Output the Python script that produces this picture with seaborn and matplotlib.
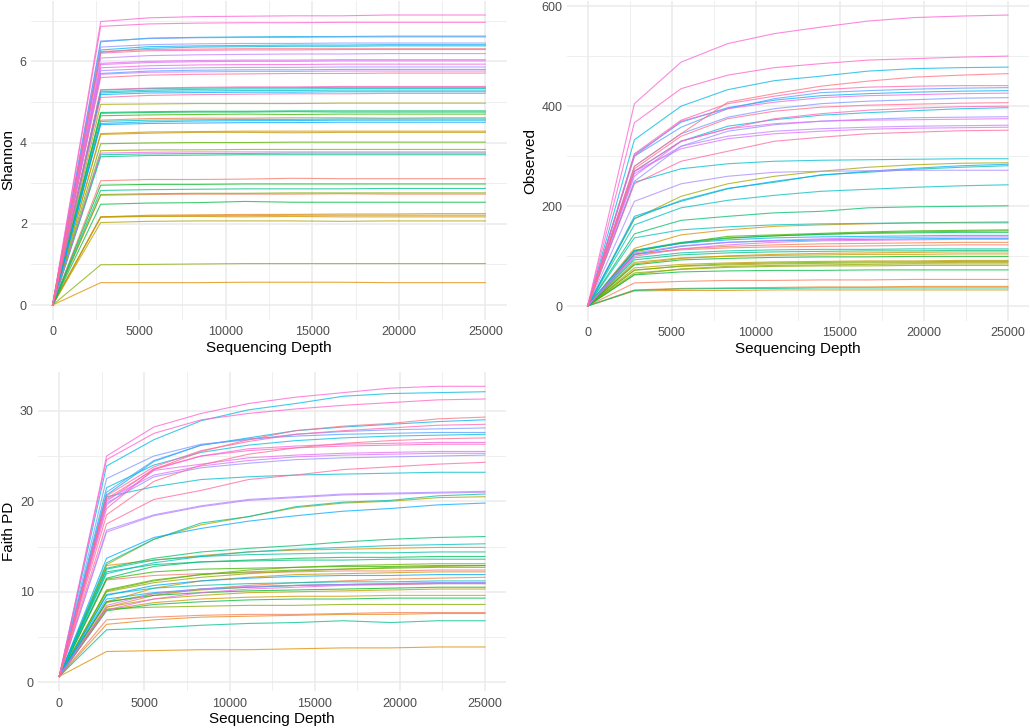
import numpy as np
import pandas as pd
import matplotlib
matplotlib.use('Agg')
import matplotlib.pyplot as plt
import seaborn as sns

# sequencing depths of the rarefaction steps
depths = [1, 2778, 5556, 8334, 11112, 13889, 16667, 19445, 22223, 25000]
samples = ['S%02d' % (i + 1) for i in range(50)]

shannon = [
    [0, 3.06, 3.09, 3.09, 3.10, 3.12, 3.11, 3.11, 3.11, 3.11],
    [0, 2.70, 2.72, 2.73, 2.73, 2.73, 2.74, 2.73, 2.73, 2.73],
    [0, 4.55, 4.59, 4.60, 4.60, 4.61, 4.61, 4.60, 4.61, 4.61],
    [0, 2.17, 2.21, 2.22, 2.23, 2.23, 2.24, 2.24, 2.25, 2.25],
    [0, 0.55, 0.55, 0.55, 0.56, 0.56, 0.56, 0.55, 0.55, 0.55],
    [0, 4.22, 4.26, 4.27, 4.28, 4.28, 4.28, 4.28, 4.28, 4.28],
    [0, 2.16, 2.18, 2.18, 2.17, 2.18, 2.17, 2.17, 2.17, 2.17],
    [0, 4.20, 4.23, 4.25, 4.25, 4.24, 4.25, 4.25, 4.25, 4.25],
    [0, 2.17, 2.19, 2.20, 2.20, 2.21, 2.21, 2.21, 2.21, 2.21],
    [0, 2.03, 2.06, 2.07, 2.07, 2.07, 2.06, 2.07, 2.07, 2.07],
    [0, 4.94, 4.95, 4.96, 4.96, 4.96, 4.97, 4.97, 4.97, 4.97],
    [0, 3.80, 3.82, 3.82, 3.83, 3.83, 3.83, 3.83, 3.83, 3.83],
    [0, 0.99, 1.00, 1.01, 1.02, 1.02, 1.02, 1.02, 1.02, 1.02],
    [0, 2.72, 2.74, 2.75, 2.75, 2.76, 2.76, 2.76, 2.76, 2.76],
    [0, 3.97, 3.99, 4.00, 4.00, 4.01, 4.01, 4.01, 4.01, 4.01],
    [0, 4.66, 4.68, 4.69, 4.70, 4.69, 4.70, 4.70, 4.70, 4.70],
    [0, 2.95, 2.97, 2.97, 2.98, 2.98, 2.98, 2.98, 2.98, 2.98],
    [0, 2.48, 2.51, 2.52, 2.55, 2.53, 2.53, 2.53, 2.53, 2.53],
    [0, 4.72, 4.74, 4.75, 4.75, 4.76, 4.75, 4.75, 4.75, 4.75],
    [0, 4.74, 4.76, 4.77, 4.77, 4.78, 4.78, 4.78, 4.78, 4.78],
    [0, 3.65, 3.68, 3.69, 3.70, 3.70, 3.70, 3.70, 3.70, 3.70],
    [0, 2.82, 2.84, 2.85, 2.86, 2.86, 2.86, 2.87, 2.87, 2.87],
    [0, 3.70, 3.72, 3.73, 3.73, 3.74, 3.74, 3.74, 3.74, 3.74],
    [0, 5.29, 5.33, 5.34, 5.35, 5.35, 5.36, 5.36, 5.36, 5.36],
    [0, 5.25, 5.29, 5.31, 5.32, 5.32, 5.33, 5.33, 5.33, 5.33],
    [0, 4.52, 4.55, 4.56, 4.57, 4.57, 4.58, 4.58, 4.58, 4.58],
    [0, 5.22, 5.26, 5.27, 5.28, 5.28, 5.29, 5.29, 5.29, 5.29],
    [0, 6.22, 6.32, 6.35, 6.36, 6.37, 6.37, 6.38, 6.38, 6.38],
    [0, 6.48, 6.57, 6.59, 6.60, 6.61, 6.61, 6.62, 6.62, 6.62],
    [0, 6.28, 6.36, 6.38, 6.39, 6.40, 6.40, 6.41, 6.41, 6.41],
    [0, 4.47, 4.51, 4.53, 4.54, 4.54, 4.55, 4.55, 4.55, 4.55],
    [0, 5.18, 5.22, 5.23, 5.24, 5.24, 5.25, 5.25, 5.25, 5.25],
    [0, 4.44, 4.47, 4.48, 4.49, 4.49, 4.50, 4.50, 4.50, 4.50],
    [0, 5.70, 5.76, 5.78, 5.79, 5.79, 5.80, 5.80, 5.80, 5.80],
    [0, 6.50, 6.56, 6.58, 6.59, 6.59, 6.60, 6.60, 6.60, 6.60],
    [0, 6.35, 6.41, 6.43, 6.44, 6.44, 6.45, 6.45, 6.45, 6.45],
    [0, 5.77, 5.82, 5.84, 5.85, 5.85, 5.86, 5.86, 5.86, 5.86],
    [0, 6.08, 6.14, 6.16, 6.17, 6.18, 6.18, 6.19, 6.19, 6.19],
    [0, 5.68, 5.73, 5.74, 5.75, 5.75, 5.76, 5.76, 5.76, 5.76],
    [0, 5.92, 5.97, 5.99, 6.00, 6.00, 6.01, 6.01, 6.01, 6.01],
    [0, 5.95, 6.00, 6.02, 6.03, 6.03, 6.04, 6.04, 6.04, 6.04],
    [0, 3.74, 3.76, 3.77, 3.77, 3.77, 3.77, 3.77, 3.77, 3.77],
    [0, 5.84, 5.89, 5.91, 5.92, 5.92, 5.93, 5.93, 5.93, 5.93],
    [0, 6.98, 7.07, 7.10, 7.11, 7.12, 7.12, 7.14, 7.14, 7.14],
    [0, 6.86, 6.92, 6.94, 6.95, 6.95, 6.96, 6.96, 6.96, 6.96],
    [0, 5.30, 5.34, 5.36, 5.37, 5.37, 5.38, 5.38, 5.38, 5.38],
    [0, 6.20, 6.26, 6.27, 6.28, 6.28, 6.29, 6.29, 6.29, 6.29],
    [0, 5.11, 5.16, 5.18, 5.19, 5.20, 5.20, 5.21, 5.21, 5.21],
    [0, 5.60, 5.66, 5.68, 5.69, 5.70, 5.70, 5.71, 5.71, 5.71],
    [0, 6.24, 6.29, 6.30, 6.31, 6.31, 6.31, 6.31, 6.31, 6.31],
]

observed = [
    [1, 105, 113, 117, 119, 120, 121, 122, 123, 123],
    [1, 47, 50, 52, 52, 53, 53, 54, 54, 54],
    [1, 103, 115, 120, 123, 125, 126, 127, 128, 128],
    [1, 33, 36, 37, 38, 39, 39, 40, 40, 40],
    [1, 31, 32, 32, 33, 33, 33, 33, 33, 33],
    [1, 116, 143, 153, 160, 163, 165, 167, 168, 169],
    [1, 85, 96, 101, 104, 106, 107, 108, 109, 109],
    [1, 88, 97, 100, 102, 103, 104, 104, 105, 105],
    [1, 77, 84, 87, 89, 90, 91, 91, 92, 92],
    [1, 73, 80, 83, 85, 86, 87, 87, 88, 88],
    [1, 175, 220, 245, 260, 270, 278, 283, 286, 287],
    [1, 64, 75, 80, 82, 83, 84, 85, 85, 85],
    [1, 67, 74, 78, 80, 81, 81, 82, 82, 82],
    [1, 72, 81, 85, 87, 88, 89, 89, 90, 90],
    [1, 111, 126, 136, 141, 144, 147, 149, 150, 151],
    [1, 109, 127, 140, 143, 146, 149, 151, 152, 153],
    [1, 83, 93, 96, 98, 99, 99, 100, 100, 100],
    [1, 63, 69, 71, 72, 72, 73, 73, 73, 73],
    [1, 112, 128, 137, 141, 144, 146, 147, 148, 148],
    [1, 145, 172, 180, 187, 190, 197, 199, 200, 201],
    [1, 93, 103, 107, 109, 110, 111, 111, 112, 112],
    [1, 32, 35, 36, 36, 37, 37, 37, 37, 37],
    [1, 97, 107, 111, 113, 114, 114, 115, 115, 115],
    [1, 176, 212, 236, 248, 263, 268, 274, 278, 281],
    [1, 137, 153, 159, 163, 165, 166, 167, 167, 167],
    [1, 163, 197, 212, 222, 230, 234, 238, 241, 243],
    [1, 248, 275, 285, 290, 292, 293, 294, 295, 295],
    [1, 270, 330, 360, 373, 382, 387, 391, 395, 397],
    [1, 333, 400, 433, 451, 460, 470, 475, 477, 478],
    [1, 303, 368, 397, 412, 421, 425, 428, 430, 431],
    [1, 112, 126, 133, 137, 139, 140, 141, 142, 142],
    [1, 180, 210, 235, 250, 262, 270, 276, 281, 284],
    [1, 104, 120, 128, 131, 133, 134, 135, 136, 136],
    [1, 300, 358, 395, 415, 427, 431, 434, 436, 437],
    [1, 280, 345, 378, 395, 405, 410, 413, 416, 417],
    [1, 250, 320, 350, 363, 370, 374, 377, 378, 379],
    [1, 210, 245, 260, 268, 270, 271, 272, 272, 272],
    [1, 265, 320, 340, 350, 355, 358, 360, 361, 362],
    [1, 107, 121, 128, 132, 135, 137, 138, 139, 139],
    [1, 270, 315, 335, 345, 350, 354, 356, 357, 358],
    [1, 260, 330, 355, 365, 370, 372, 373, 374, 375],
    [1, 100, 115, 123, 128, 131, 132, 133, 134, 134],
    [1, 300, 370, 395, 408, 417, 421, 423, 425, 426],
    [1, 405, 488, 525, 545, 558, 570, 577, 580, 582],
    [1, 367, 435, 462, 477, 485, 492, 495, 498, 500],
    [1, 270, 330, 355, 375, 385, 392, 396, 399, 400],
    [1, 305, 372, 405, 420, 433, 438, 440, 441, 441],
    [1, 245, 290, 310, 330, 338, 345, 348, 351, 352],
    [1, 275, 340, 375, 390, 398, 402, 404, 406, 407],
    [1, 280, 345, 408, 425, 440, 450, 458, 462, 465],
]

faith = [
    [0.65, 11.3, 11.8, 12.0, 12.1, 12.2, 12.3, 12.3, 12.4, 12.4],
    [0.65, 6.9, 7.2, 7.4, 7.5, 7.5, 7.6, 7.7, 7.7, 7.7],
    [0.65, 8.3, 9.6, 10.3, 10.7, 11.0, 11.2, 11.4, 11.5, 11.6],
    [0.65, 6.4, 6.9, 7.2, 7.3, 7.4, 7.5, 7.5, 7.6, 7.6],
    [0.65, 3.4, 3.5, 3.6, 3.6, 3.7, 3.8, 3.8, 3.9, 3.9],
    [0.65, 12.9, 13.5, 14.0, 14.4, 14.6, 14.7, 14.8, 14.9, 14.9],
    [0.65, 8.0, 8.8, 9.2, 9.4, 9.5, 9.5, 9.6, 9.6, 9.6],
    [0.65, 8.9, 10.4, 11.2, 11.6, 11.9, 12.0, 12.1, 12.2, 12.2],
    [0.65, 8.3, 9.2, 9.6, 9.9, 10.0, 10.1, 10.2, 10.3, 10.3],
    [0.65, 8.8, 9.8, 10.2, 10.5, 10.7, 10.8, 10.8, 10.9, 10.9],
    [0.65, 13.0, 15.8, 17.4, 18.3, 19.3, 19.8, 20.0, 20.4, 20.5],
    [0.65, 10.0, 11.0, 11.6, 12.0, 12.3, 12.5, 12.7, 12.8, 12.9],
    [0.65, 8.1, 8.3, 8.4, 8.5, 8.5, 8.6, 8.6, 8.6, 8.6],
    [0.65, 10.1, 11.2, 11.9, 12.4, 12.7, 12.9, 13.0, 13.1, 13.1],
    [0.65, 10.2, 11.3, 11.9, 12.2, 12.4, 12.5, 12.6, 12.7, 12.7],
    [0.65, 11.4, 12.2, 12.5, 12.6, 12.7, 12.8, 12.8, 12.9, 12.9],
    [0.65, 8.9, 9.6, 9.9, 10.1, 10.2, 10.3, 10.4, 10.5, 10.5],
    [0.65, 7.9, 8.6, 8.9, 9.1, 9.2, 9.2, 9.3, 9.3, 9.3],
    [0.65, 11.5, 12.8, 13.3, 13.5, 13.7, 13.8, 13.8, 13.9, 13.9],
    [0.65, 12.6, 13.7, 14.4, 14.8, 15.1, 15.5, 15.8, 16.0, 16.1],
    [0.65, 12.2, 13.0, 13.3, 13.4, 13.5, 13.5, 13.6, 13.6, 13.6],
    [0.65, 5.8, 6.0, 6.3, 6.5, 6.6, 6.8, 6.6, 6.8, 6.8],
    [0.65, 12.5, 13.5, 13.9, 14.1, 14.2, 14.3, 14.3, 14.4, 14.4],
    [0.65, 13.2, 15.8, 17.6, 18.3, 19.4, 19.9, 20.1, 20.6, 20.8],
    [0.65, 9.7, 10.4, 10.7, 10.9, 11.0, 11.1, 11.1, 11.2, 11.2],
    [0.65, 12.0, 13.2, 13.9, 14.4, 14.7, 14.9, 15.1, 15.2, 15.3],
    [0.65, 20.5, 21.6, 22.4, 22.7, 22.9, 23.0, 23.1, 23.2, 23.2],
    [0.65, 21.5, 24.0, 25.4, 26.2, 26.7, 27.0, 27.2, 27.3, 27.4],
    [0.65, 23.9, 26.8, 28.9, 30.1, 30.8, 31.6, 31.9, 32.0, 32.1],
    [0.65, 20.7, 24.4, 26.2, 27.0, 27.8, 28.2, 28.5, 28.8, 29.0],
    [0.65, 9.2, 9.9, 10.3, 10.5, 10.7, 10.8, 10.9, 11.0, 11.0],
    [0.65, 13.7, 16.0, 17.0, 17.8, 18.4, 18.9, 19.2, 19.6, 19.8],
    [0.65, 9.6, 10.7, 11.2, 11.5, 11.7, 11.8, 11.8, 11.9, 11.9],
    [0.65, 21.0, 24.5, 26.2, 26.9, 27.2, 27.4, 27.5, 27.6, 27.6],
    [0.65, 22.5, 25.0, 26.3, 26.8, 27.4, 27.7, 27.9, 28.0, 28.1],
    [0.65, 19.8, 22.7, 23.7, 24.2, 24.6, 24.8, 24.9, 25.0, 25.1],
    [0.65, 16.8, 18.5, 19.5, 20.2, 20.5, 20.8, 20.9, 21.0, 21.1],
    [0.65, 16.6, 18.4, 19.4, 20.1, 20.4, 20.7, 20.8, 20.9, 21.0],
    [0.65, 8.5, 9.8, 10.3, 10.6, 10.7, 10.8, 10.9, 11.0, 11.0],
    [0.65, 20.2, 22.9, 23.9, 24.5, 24.9, 25.1, 25.2, 25.3, 25.3],
    [0.65, 19.6, 23.4, 24.1, 24.8, 25.1, 25.3, 25.4, 25.5, 25.5],
    [0.65, 8.0, 9.2, 9.9, 10.3, 10.5, 10.7, 10.8, 10.9, 10.9],
    [0.65, 20.0, 23.6, 25.0, 25.8, 26.1, 26.3, 26.4, 26.5, 26.5],
    [0.65, 25.0, 28.2, 29.7, 30.8, 31.5, 32.0, 32.5, 32.7, 32.7],
    [0.65, 24.6, 27.5, 29.0, 29.7, 30.2, 30.6, 30.9, 31.2, 31.3],
    [0.65, 19.2, 23.5, 25.0, 25.6, 25.9, 26.1, 26.2, 26.3, 26.3],
    [0.65, 20.6, 23.8, 25.6, 26.6, 27.4, 27.8, 28.1, 28.4, 28.5],
    [0.65, 17.5, 20.2, 21.2, 22.4, 22.9, 23.5, 23.8, 24.1, 24.3],
    [0.65, 18.5, 22.2, 24.0, 25.2, 25.9, 26.4, 26.7, 26.9, 27.0],
    [0.65, 20.3, 23.5, 25.5, 26.8, 27.8, 28.3, 28.6, 29.1, 29.3],
]


# ggplot-like hue palette (hcl, c=100, l=65)
def hcl_colors(n, c=100, l=65):
    hues = np.linspace(15, 375, n + 1)[:n]
    xn, yn, zn = 95.047, 100.0, 108.883
    un = 4 * xn / (xn + 15 * yn + 3 * zn)
    vn = 9 * yn / (xn + 15 * yn + 3 * zn)
    m = np.array([[3.2404542, -1.5371385, -0.4985314],
                  [-0.9692660, 1.8760108, 0.0415560],
                  [0.0556434, -0.2040259, 1.0572252]])
    out = []
    for h in hues:
        u = c * np.cos(np.radians(h))
        v = c * np.sin(np.radians(h))
        Y = yn * ((l + 16) / 116) ** 3
        up = u / (13 * l) + un
        vp = v / (13 * l) + vn
        X = Y * 9 * up / (4 * vp)
        Z = Y * (12 - 3 * up - 20 * vp) / (4 * vp)
        rgb = m @ (np.array([X, Y, Z]) / 100)
        rgb = np.where(rgb <= 0.0031308, 12.92 * rgb,
                       1.055 * np.clip(rgb, 0, None) ** (1 / 2.4) - 0.055)
        out.append(tuple(np.clip(rgb, 0, 1)))
    return out


palette = hcl_colors(len(samples))


def long_df(values):
    rows = []
    for s, vals in zip(samples, values):
        for d, v in zip(depths, vals):
            rows.append((s, d, v))
    return pd.DataFrame(rows, columns=['sample', 'depth', 'value'])


plt.rcParams['font.family'] = ['Liberation Sans', 'DejaVu Sans']
fig = plt.figure(figsize=(10.3, 7.28), dpi=100)
W, H = 1030, 728

# label, data, panel box in pixels (x0, y0, x1, y1), y ticks, minor y ticks
panels = [
    ('Shannon', shannon, (31, 0.5, 507, 319.5), [0, 2, 4, 6], [1, 3, 5, 7]),
    ('Observed', observed, (566.7, 0.5, 1029, 320.5), [0, 200, 400, 600], [100, 300, 500]),
    ('Faith PD', faith, (38, 371.8, 506.3, 690.9), [0, 10, 20, 30], [5, 15, 25]),
]

for label, values, (x0, y0, x1, y1), yt, ymin in panels:
    ax = fig.add_axes([x0 / W, 1 - y1 / H, (x1 - x0) / W, (y1 - y0) / H])
    df = long_df(values)
    sns.lineplot(data=df, x='depth', y='value', hue='sample', palette=palette,
                 estimator=None, legend=False, linewidth=0.8, alpha=0.75, ax=ax)
    ax.margins(x=0.05, y=0.05)
    ax.set_xticks([0, 5000, 10000, 15000, 20000, 25000])
    ax.set_xticks([2500, 7500, 12500, 17500, 22500], minor=True)
    ax.set_yticks(yt)
    ax.set_yticks(ymin, minor=True)
    ax.grid(True, which='major', color='#EBEBEB', linewidth=1.1)
    ax.grid(True, which='minor', color='#EBEBEB', linewidth=0.55)
    ax.set_axisbelow(True)
    for sp in ax.spines.values():
        sp.set_visible(False)
    ax.tick_params(axis='y', which='both', length=0, labelsize=9, labelcolor='#4D4D4D', pad=3)
    ax.tick_params(axis='x', which='both', length=0, labelsize=9, labelcolor='#4D4D4D', pad=5)
    ax.set_xlabel('Sequencing Depth', fontsize=11, labelpad=1.5)
    ax.set_ylabel(label, fontsize=11, labelpad=3)

fig.savefig('out.png', dpi=100, facecolor='white')
